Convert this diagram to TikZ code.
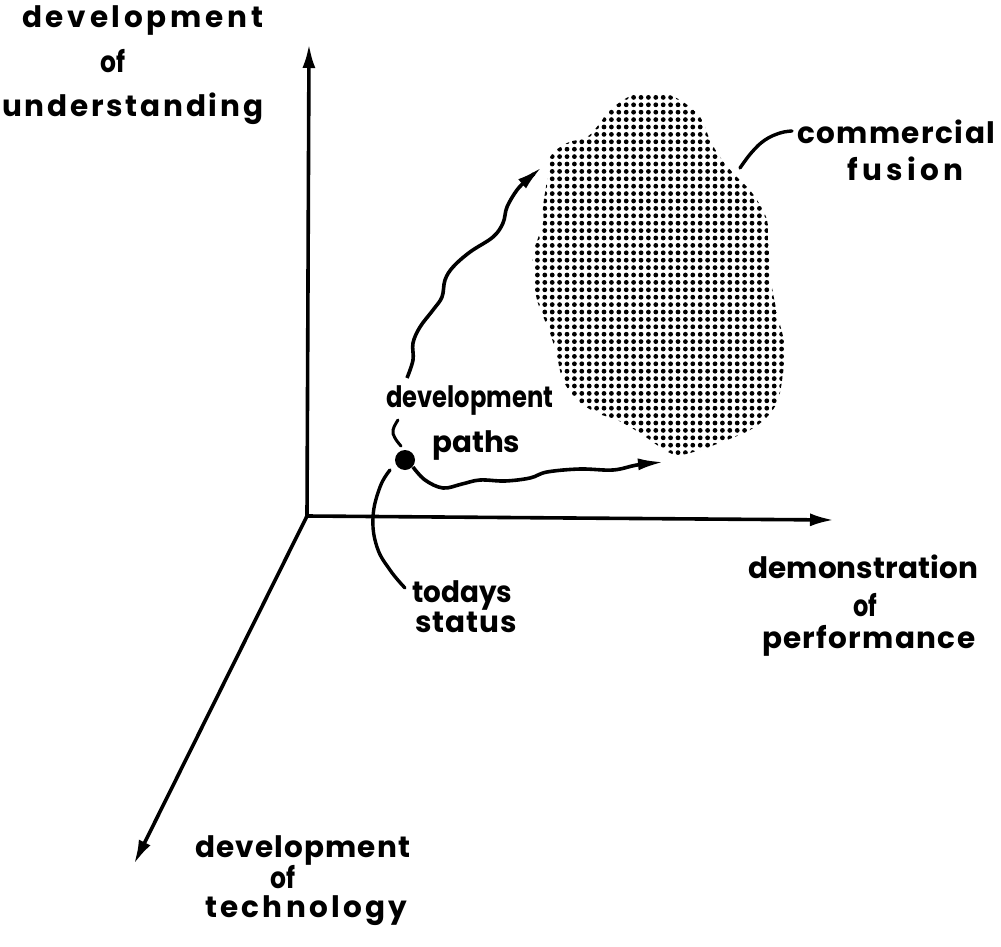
\documentclass[tikz,border=0pt]{standalone}
\usepackage{fontspec}
\usepackage{graphicx}
\setmainfont{Poppins}
\usetikzlibrary{arrows.meta}
\newlength\spw
\def\sploop#1{\ifx#1\relax\else\hfil#1\expandafter\sploop\fi}
\def\spfirst#1{#1\sploop}
\newcommand\spreadto[2]{\settowidth\spw{#2}\ifdim\spw>#1pt\relax\pgfmathsetmacro\spfac{#1/\spw}\scalebox{\spfac}[1]{#2}\else\makebox[#1pt][s]{\spfirst#2\relax}\fi}
\tikzset{
 lab/.style={font=\bfseries\fontsize{29.5}{30}\selectfont, inner sep=0pt, anchor=base west},
 axisline/.style={line width=3.6pt, -{Latex[length=24pt,width=13pt]}},
 devpath/.style={line width=3.6pt, -{Latex[length=26pt,width=12pt]}},
 leader/.style={line width=3.4pt, line cap=round},
}
\begin{document}
\begin{tikzpicture}[x=1pt,y=-1pt]
\useasboundingbox (0,0) rectangle (1001,947);
% blob with dot screen
\begin{scope}
\clip plot[smooth cycle, tension=0.6] coordinates {(610,110) (633,95) (660,93) (680,100) (700,117) (710,140) (720,157) (733,173) (747,187) (757,200) (767,220) (768,240) (770,267) (772,287) (777,313) (785,347) (783,373) (778,400) (767,417) (750,430) (727,440) (700,450) (677,455) (660,447) (640,433) (617,420) (597,413) (577,400) (563,380) (557,357) (550,333) (537,300) (533,267) (533,253) (543,223) (543,207) (547,180) (550,157) (567,143) (587,137) (600,123)};
\foreach \i in {0,...,35} {\foreach \j in {0,...,52} {\fill (530+\i*7.4, 90+\j*7.4) circle (2.4pt);}}
\end{scope}
% axes
\coordinate (O) at (307,516);
\coordinate (U) at (309,44);
\coordinate (P) at (834,520);
\coordinate (T) at (134,864);
\draw[axisline] (O) -- (U);
\draw[axisline] (O) -- (P);
\draw[axisline] (O) -- (T);
% today's status dot
\node[circle, fill, minimum size=20pt, inner sep=0pt] (dot) at (405,460) {};
% development paths
\draw[devpath] plot[smooth, tension=0.6] coordinates {(407,378) (413,360) (413,343) (420,327) (433,310) (442,297) (445,280) (453,267) (470,252) (493,237) (503,223) (507,207) (517,190) (527,180) (542,167)};
\draw[devpath] plot[smooth, tension=0.6] coordinates {(413,467) (425,480) (443,488) (462,484) (480,480) (505,481) (530,478) (547,472) (580,469) (613,470) (637,465) (664,462)};
% leaders
\draw[leader] plot[smooth, tension=0.7] coordinates {(390,470) (380,487) (373,517) (377,547) (390,570) (405,588)};
\draw[leader] plot[smooth, tension=0.7] coordinates {(740,168) (752,152) (765,140) (780,133) (792,131)};
\draw[leader, line width=3pt] plot[smooth, tension=0.7] coordinates {(398,420) (393,430) (395,438) (401,446)};
% labels
\node[lab] (u1) at (22,28) {\spreadto{241}{development}};
\node[lab] (u2) at (100,73) {\spreadto{25}{of}};
\node[lab] (u3) at (2,117) {\spreadto{261}{understanding}};
\node[lab] (c1) at (797,143) {\spreadto{198}{commercial}};
\node[lab] (c2) at (847,180) {\spreadto{116}{fusion}};
\node[lab] (p1) at (386,407) {\spreadto{167}{development}};
\node[lab] (p2) at (432,452) {\spreadto{88}{paths}};
\node[lab] (t1) at (412,602) {\spreadto{100}{todays}};
\node[lab] (t2) at (415,632) {\spreadto{102}{status}};
\node[lab] (d1) at (748,578) {\spreadto{230}{demonstration}};
\node[lab] (d2) at (853,616) {\spreadto{24}{of}};
\node[lab] (d3) at (762,648) {\spreadto{213}{performance}};
\node[lab] (e1) at (195,857) {\spreadto{215}{development}};
\node[lab] (e2) at (270,888) {\spreadto{25}{of}};
\node[lab] (e3) at (205,917) {\spreadto{202}{technology}};
\end{tikzpicture}
\end{document}
